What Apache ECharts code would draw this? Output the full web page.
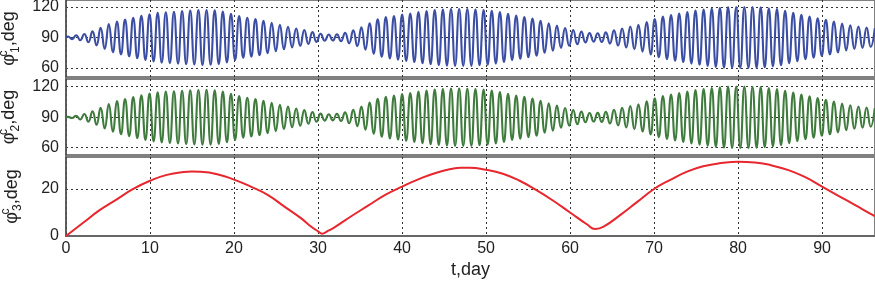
<!DOCTYPE html>
<html>
<head>
<meta charset="utf-8">
<script src="https://cdn.jsdelivr.net/npm/echarts@6/dist/echarts.min.js"></script>
<style>
  html, body { margin: 0; padding: 0; background: #fff; }
  #chart { width: 875px; height: 283px; }
</style>
</head>
<body>
<div id="chart"></div>
<script>
// sampling of the oscillations: first extremum and half period (days)
const firstExt = 0.24
const halfPeriod = 0.485

// phi1 (blue): upper and lower extrema
const bluePeaks = [90.9, 92.2, 93.5, 96, 99.5, 103.2, 105.6, 107.6, 109.5, 111.4,
  112.9, 114.4, 114.9, 115.4, 115.9, 116.4, 116.9, 117, 116.7, 115.5,
  113.4, 111, 109.4, 108.2, 106.5, 104.5, 102.6, 100.6, 98.9, 97.3,
  95.3, 93.7, 93, 93.2, 94.5, 97, 100, 104, 107.8, 110,
  111, 112.5, 113.5, 115, 116, 117, 117.5, 118, 118, 118,
  117.6, 117.1, 116.3, 115, 113.3, 111.6, 110.2, 108.7, 106.5, 104,
  101.7, 99.2, 97.4, 95.8, 94.3, 94.1, 95, 97, 98.9, 100.8,
  102.4, 105.3, 108.2, 110.6, 112, 113.5, 115, 116.4, 117.4, 118.4,
  119.3, 119.9, 120, 120, 120, 119.7, 118.8, 117.9, 116.3, 114.4,
  112.4, 110.7, 109, 107.3, 105.7, 103.7, 101.9, 100.7, 99.7, 99]
const blueTroughs = [88.4, 87.3, 85.3, 82.2, 78.6, 75.5, 73.4, 71.5, 69.5, 67.8,
  66.4, 65.3, 64.8, 64.3, 63.8, 63.4, 63, 63.1, 63.8, 65.4,
  67.8, 70.1, 71.1, 72.6, 74.5, 76.5, 78.4, 80.3, 81.8, 83.7,
  85.7, 86.8, 87, 86.3, 84.2, 81.5, 77.9, 74, 71, 69.4,
  68.2, 67, 65.8, 64.6, 63.6, 62.8, 62.3, 62, 62, 62.1,
  62.6, 63.2, 64.3, 65.8, 67.7, 69.1, 70.6, 72.1, 75, 76.9,
  79.8, 81.9, 83.3, 85.2, 85.9, 85.6, 84, 82.1, 80.1, 78.5,
  76.1, 73.2, 70.6, 68.7, 67.2, 65.8, 64.3, 63.1, 62.1, 61.1,
  60.3, 60, 60, 60, 60.1, 60.7, 61.6, 62.7, 64.7, 66.6,
  68.5, 70, 71.9, 73.4, 75.3, 77.3, 78.8, 79.8, 80.8]

// phi2 (green)
const greenPeaks = [90.3, 91.5, 93.2, 95.8, 99.2, 103, 105.8, 107.9, 109.8, 111.6,
  113.2, 114.6, 115.2, 115.6, 116, 116.5, 116.8, 116.9, 116.5, 115.2,
  113.1, 110.8, 109.1, 107.9, 106.1, 104.2, 102.3, 100.4, 98.6, 97,
  95.1, 93.5, 92.9, 93.4, 94.8, 97.3, 100.4, 104.3, 108, 110.2,
  111.3, 112.7, 113.8, 115.2, 116.2, 117.1, 117.6, 118.1, 118.1, 118,
  117.7, 117.2, 116.2, 114.8, 113.1, 111.4, 110, 108.4, 106.2, 103.7,
  101.4, 99, 97.1, 95.5, 94.2, 94.3, 95.2, 97.3, 99.2, 101.1,
  102.8, 105.6, 108.5, 110.9, 112.3, 113.8, 115.3, 116.7, 117.7, 118.7,
  119.5, 120.1, 120.2, 120.1, 120, 119.6, 118.7, 117.7, 116.1, 114.2,
  112.2, 110.5, 108.8, 107.1, 105.4, 103.5, 101.7, 100.5, 99.5, 98.9]
const greenTroughs = [89.2, 87.8, 85.6, 82.5, 78.9, 75.8, 73.2, 71.3, 69.3, 67.6,
  66.2, 65.1, 64.6, 64.1, 63.6, 63.2, 62.9, 63, 63.7, 65.3,
  67.6, 69.9, 71, 72.4, 74.3, 76.3, 78.2, 80.1, 81.6, 83.5,
  85.5, 86.6, 86.9, 86.2, 84, 81.2, 77.6, 73.7, 70.8, 69.2,
  68, 66.8, 65.6, 64.4, 63.4, 62.6, 62.1, 61.8, 61.8, 61.9,
  62.4, 63, 64.1, 65.6, 67.5, 68.9, 70.4, 71.9, 74.8, 76.7,
  79.6, 81.7, 83.1, 85, 85.7, 85.4, 83.8, 81.9, 79.9, 78.3,
  75.9, 73, 70.4, 68.5, 67, 65.6, 64.1, 62.9, 61.9, 60.9,
  60.1, 59.8, 59.8, 59.8, 59.9, 60.5, 61.4, 62.5, 64.5, 66.4,
  68.3, 69.8, 71.7, 73.2, 75.1, 77.1, 78.6, 79.6, 80.6]

// phi3 (red)
const redT = [0, 2, 4, 6, 8, 10, 12, 14, 15, 16, 18, 20, 22, 24, 26, 28, 29, 30, 30.5, 31, 32,
  34, 36, 38, 40, 42, 44, 46, 47, 48, 50, 52, 54, 56, 58, 60, 62, 63, 64,
  66, 68, 70, 72, 74, 76, 78, 80, 82, 84, 86, 88, 90, 92, 94, 96, 96.3]
const redV = [0, 5.5, 11, 15.5, 20, 23.5, 26, 27.2, 27.4, 27.3, 26.3, 24, 21, 17.5, 12.5, 7.5, 4.5, 2, 1, 1.8, 3.8,
  8.5, 13, 17.5, 21, 24.2, 26.8, 28.6, 29, 29, 28.2, 26.5, 23.5, 19.5, 15, 10, 5, 3, 4,
  9, 14.5, 20, 24, 27.5, 29.8, 31, 31.6, 31.3, 30, 28, 25, 21, 17, 13, 9, 8.5]

const xTicks = [0, 10, 20, 30, 40, 50, 60, 70, 80, 90]
const phiTicks = [60, 90, 120]
const phi3Ticks = [0, 20]

function oscillation(peaks, troughs) {
  const pts = [[0, 90]]
  const n = peaks.length + troughs.length
  for (let i = 0; i < n; i++) {
    const v = i % 2 === 0 ? peaks[i / 2] : troughs[(i - 1) / 2]
    pts.push([firstExt + i * halfPeriod, v])
  }
  return pts
}

const chart = echarts.init(document.getElementById('chart'))
const font = 'Liberation Sans, Arial, sans-serif'
const gridLine = { show: true, lineStyle: { color: '#333', type: [2, 3], width: 1 } }

function xAxis(i, last) {
  return {
    type: 'value', gridIndex: i, min: 0, max: 96.3,
    axisLine: { show: last, lineStyle: { color: '#666', width: 2 } },
    axisTick: { show: false, customValues: xTicks },
    axisLabel: { show: last, customValues: xTicks, color: '#222', fontSize: 16, fontFamily: font, margin: 5 },
    splitLine: gridLine,
    name: last ? 't,day' : '',
    nameLocation: 'middle',
    nameGap: 25,
    nameTextStyle: { color: '#222', fontSize: 18, fontFamily: font }
  }
}

function yName(idx) {
  return '{m|φ}{sup|c}{sub|' + idx + '}{m|,deg}'
}
const nameRich = {
  m: { fontSize: 18, fontFamily: font, color: '#222', lineHeight: 24 },
  sup: { fontSize: 12, fontFamily: font, color: '#222', verticalAlign: 'top', lineHeight: 24, width: 1 },
  sub: { fontSize: 12, fontFamily: font, color: '#222', verticalAlign: 'bottom', lineHeight: 20 }
}

function yAxis(i, min, max, ticks, idx) {
  return {
    type: 'value', gridIndex: i, min: min, max: max,
    axisLine: { show: true, lineStyle: { color: '#555', width: 1.5 } },
    axisTick: { show: false, customValues: ticks },
    axisLabel: { customValues: ticks, color: '#222', fontSize: 16, fontFamily: font, margin: 7 },
    splitLine: gridLine,
    name: yName(idx),
    nameLocation: 'middle',
    nameRotate: 90,
    nameGap: 42,
    nameTextStyle: { rich: nameRich }
  }
}

const gridBase = {
  left: 66, right: 0, show: true, borderColor: '#808080', borderWidth: 2,
  containLabel: false, outerBoundsMode: 'none'
}

const option = {
  animation: false,
  backgroundColor: '#fff',
  grid: [
    Object.assign({ top: 0, height: 77 }, gridBase),
    Object.assign({ top: 79, height: 76 }, gridBase),
    Object.assign({ top: 157, height: 79 }, gridBase)
  ],
  xAxis: [xAxis(0, false), xAxis(1, false), xAxis(2, true)],
  yAxis: [
    yAxis(0, 51.1, 126.9, phiTicks, 1),
    yAxis(1, 52.8, 127.6, phiTicks, 2),
    yAxis(2, 0, 33.6, phi3Ticks, 3)
  ],
  series: [
    {
      type: 'line', xAxisIndex: 0, yAxisIndex: 0,
      data: oscillation(bluePeaks, blueTroughs),
      smooth: true, showSymbol: false,
      lineStyle: { color: '#3b4ea3', width: 2.1 }
    },
    {
      type: 'line', xAxisIndex: 1, yAxisIndex: 1,
      data: oscillation(greenPeaks, greenTroughs),
      smooth: true, showSymbol: false,
      lineStyle: { color: '#3e7b3c', width: 2.1 }
    },
    {
      type: 'line', xAxisIndex: 2, yAxisIndex: 2,
      data: redT.map((t, i) => [t, redV[i]]),
      smooth: true, showSymbol: false,
      lineStyle: { color: '#e8262d', width: 2 }
    }
  ]
}
chart.setOption(option)
window.onresize = function() {
  chart.resize()
}
</script>
</body>
</html>
